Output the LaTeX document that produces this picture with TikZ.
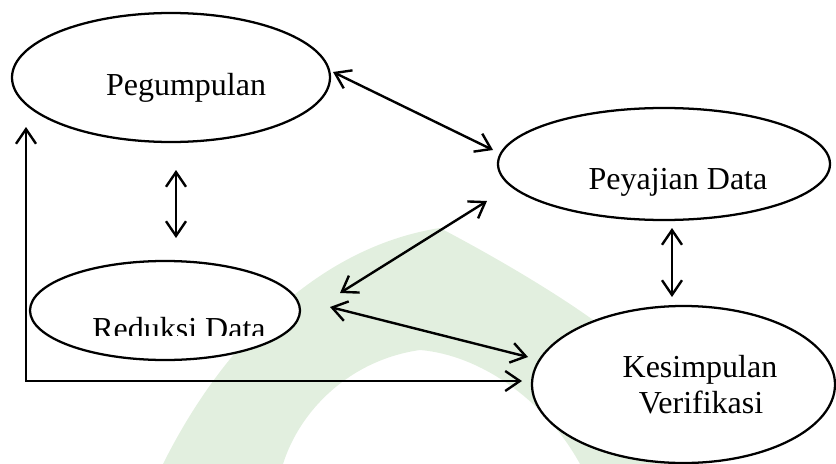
\documentclass[tikz,border=0pt]{standalone}
\usepackage{fontspec}
\setmainfont{Liberation Serif}
\usetikzlibrary{shapes.geometric,arrows.meta}
\definecolor{wmgreen}{HTML}{E2EFDF}
\tikzset{
  bubble/.style={ellipse, draw, line width=1.7pt, fill=white, inner sep=0pt},
  lbl/.style={inner sep=0pt, anchor=base, font=\fontsize{24}{28}\selectfont},
  link/.style={line width=1.8pt, {Straight Barb[length=11pt,width=15pt,line width=1.8pt]}-{Straight Barb[length=11pt,width=15pt,line width=1.8pt]}}
}
\begin{document}
\begin{tikzpicture}[x=0.75pt,y=-0.75pt]
\useasboundingbox (0,0) rectangle (836,464);
% watermark
\fill[wmgreen] (163,464) .. controls (230,330) and (330,245) .. (440,228)
  .. controls (520,270) and (600,320) .. (630,350)
  .. controls (660,390) and (680,430) .. (693,464)
  -- (580,464) .. controls (545,400) and (480,355) .. (420,350)
  .. controls (350,360) and (300,410) .. (283,464) -- cycle;
% ellipses
\node[bubble, minimum width=238.5pt, minimum height=96.75pt] (peg) at (171,77.5) {};
\node[bubble, minimum width=249pt, minimum height=84pt] (pey) at (664,164) {};
\node[bubble, minimum width=202.5pt, minimum height=74.25pt] (red) at (165,310.5) {};
\node[bubble, minimum width=227.25pt, minimum height=117.75pt] (kes) at (683.5,384.5) {};
% labels
\node[lbl] (tpeg) at (186,95) {Pegumpulan};
\node[lbl] (tpey) at (678,189) {Peyajian Data};
\begin{scope}
\clip (80,300) rectangle (280,335);
\node[lbl] (tred) at (179,339) {Reduksi Data};
\end{scope}
\node[lbl] (tkes1) at (700,377) {Kesimpulan};
\node[lbl] (tkes2) at (701,413) {Verifikasi};
% connector end points
\coordinate (a1) at (333,72);
\coordinate (a2) at (493,150);
\coordinate (b1) at (176,170);
\coordinate (b2) at (176,238);
\coordinate (c1) at (487,201);
\coordinate (c2) at (340,293);
\coordinate (d1) at (330,307);
\coordinate (d2) at (528,357);
\coordinate (e1) at (672,228);
\coordinate (e2) at (672,297);
\coordinate (f1) at (26,127);
\coordinate (f2) at (26,381);
\coordinate (f3) at (522,381);
% connectors
\draw[link] (a1) -- (a2);
\draw[link] (b1) -- (b2);
\draw[link] (c1) -- (c2);
\draw[link] (d1) -- (d2);
\draw[link] (e1) -- (e2);
\draw[link] (f1) -- (f2) -- (f3);
\end{tikzpicture}
\end{document}
